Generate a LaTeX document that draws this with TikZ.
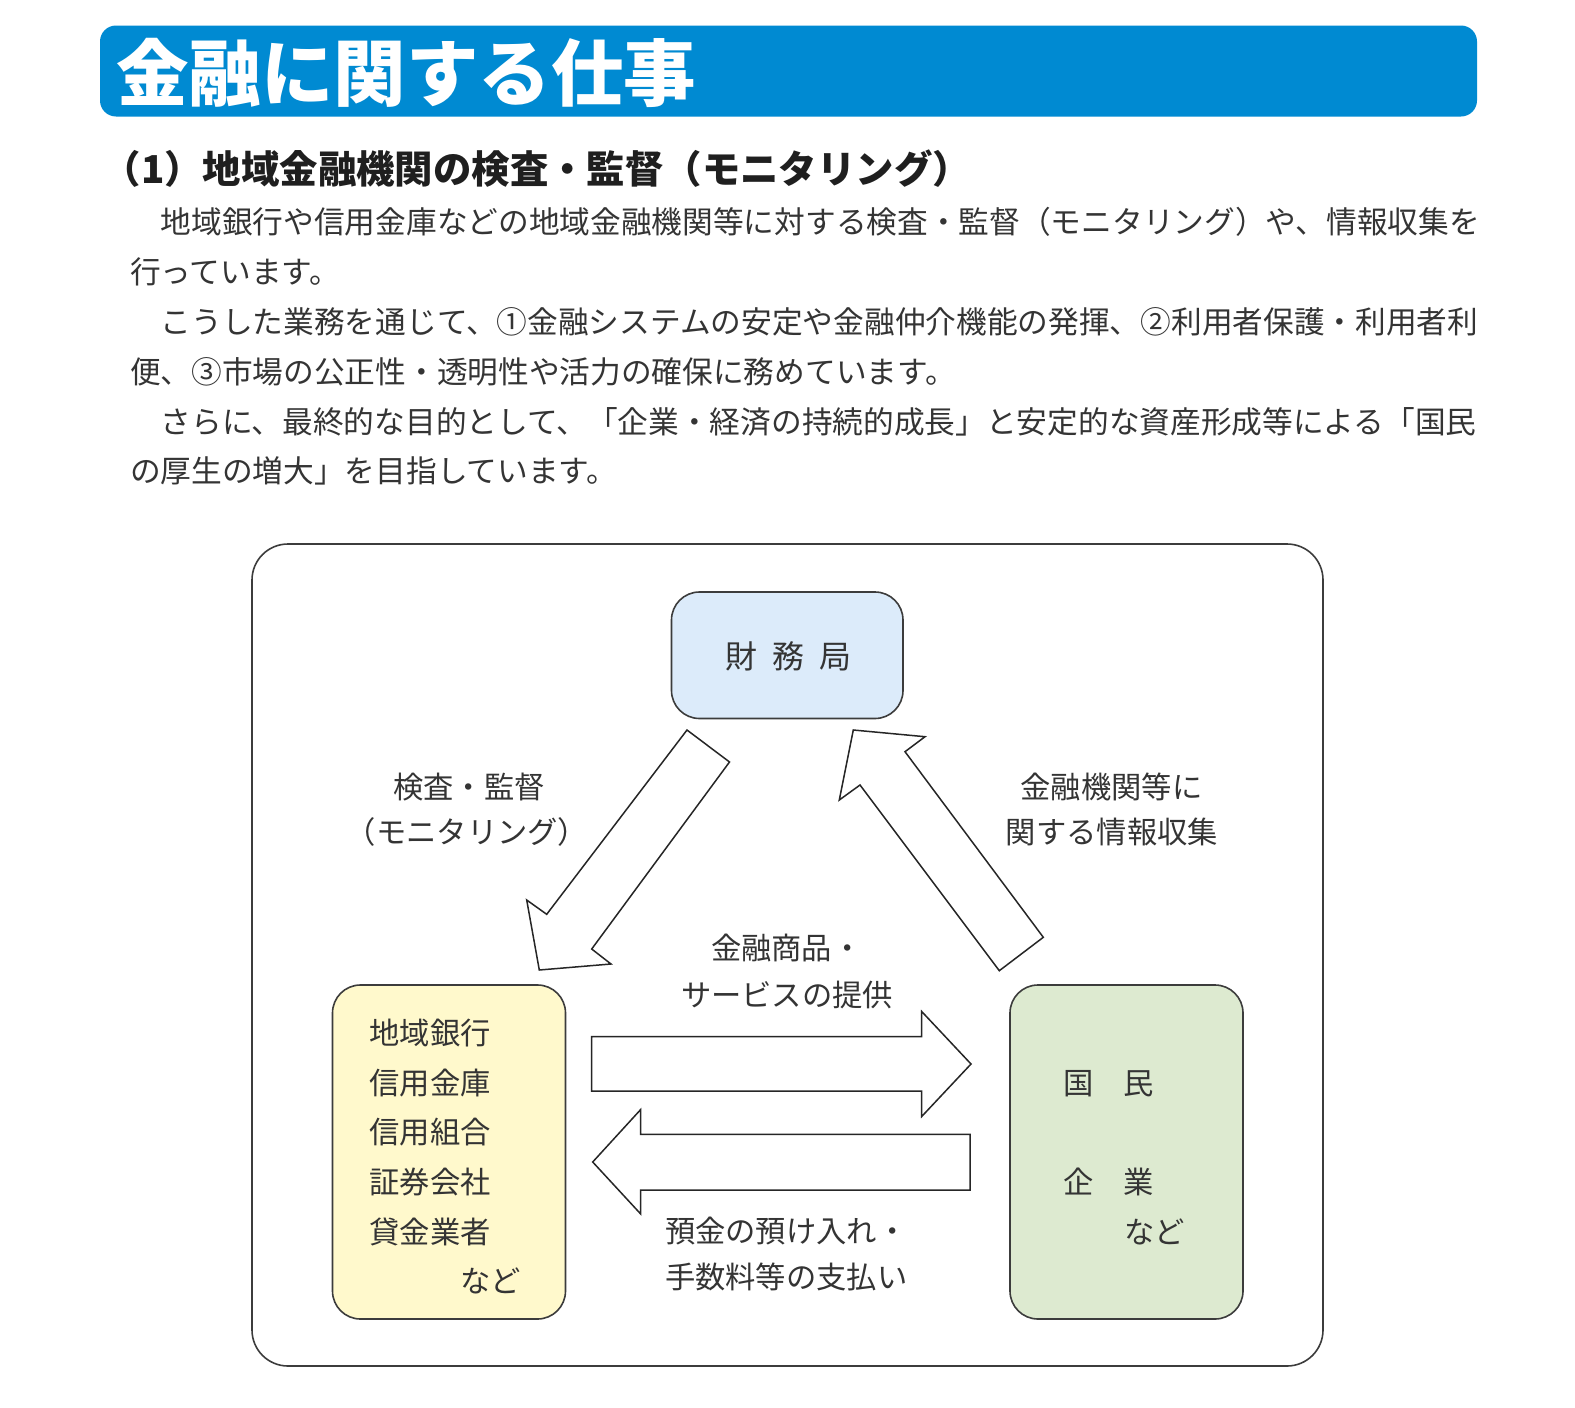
\documentclass[tikz,border=0pt]{standalone}
\usepackage{fontspec}
\setmainfont{Noto Sans CJK JP}
\newcommand{\setfs}[1]{\fontsize{#1}{#1}\selectfont}
\definecolor{titleblue}{RGB}{0,138,210}
\definecolor{zaimufill}{RGB}{220,235,250}
\definecolor{yellowfill}{RGB}{255,249,204}
\definecolor{greenfill}{RGB}{221,234,208}
\definecolor{bodygray}{RGB}{52,52,52}
\definecolor{linegray}{RGB}{60,60,60}
\begin{document}
\begin{tikzpicture}[x=1pt,y=-1pt,
  body/.style={font=\setfs{30.7}, text=bodygray, inner sep=0pt, outer sep=0pt, text height=27pt, text depth=3.7pt, anchor=west},
  lbl/.style={font=\setfs{30.3}, text=bodygray, inner sep=0pt, outer sep=0pt, text height=26.7pt, text depth=3.6pt},
  roundbox/.style={draw=linegray, line width=1.6pt, rounded corners=28pt, inner sep=0pt},
  blockarrow/.style={draw=black!85, fill=white, line width=1.5pt, line join=miter}
]
\useasboundingbox[fill=white] (0,0) rectangle (1575,1408);

% title banner
\node[fill=titleblue, rounded corners=16pt, minimum width=1377pt, minimum height=91pt, inner sep=0pt] (banner) at (788.5,71) {};
\node[font=\setfs{72.5}\bfseries, text=white, inner sep=0pt, text height=63.8pt, text depth=8.7pt, anchor=west] (title) at (116,73) {金融に関する仕事};

% subheading
\node[font=\setfs{38.4}\bfseries, text=black!88, inner sep=0pt, text height=33.8pt, text depth=4.6pt, anchor=west] (sub) at (102.5,169) {（1）地域金融機関の検査・監督（モニタリング）};

% body text
\node[body] (l1) at (130,222) {　地域銀行や信用金庫などの地域金融機関等に対する検査・監督（モニタリング）や、情報収集を};
\node[body] (l2) at (130,271.5) {行っています。};
\node[body] (l3) at (130,321.5) {　こうした業務を通じて、①金融システムの安定や金融仲介機能の発揮、②利用者保護・利用者利};
\node[body] (l4) at (130,371.5) {便、③市場の公正性・透明性や活力の確保に務めています。};
\node[body] (l5) at (130,422) {　さらに、最終的な目的として、「企業・経済の持続的成長」と安定的な資産形成等による「国民};
\node[body] (l6) at (130,471) {の厚生の増大」を目指しています。};

% outer frame
\node[draw=linegray, line width=1.6pt, rounded corners=36pt, minimum width=1071pt, minimum height=822pt, inner sep=0pt] (frame) at (787.5,955) {};

% boxes
\node[roundbox, fill=zaimufill, minimum width=231.5pt, minimum height=126.5pt] (zaimu) at (787.25,655.25) {};
\node[lbl, font=\setfs{32}, text height=28.2pt, text depth=3.8pt] (zaimut) at (788.5,656) {財\hspace{15pt}務\hspace{15pt}局};
\node[roundbox, fill=yellowfill, minimum width=233pt, minimum height=334pt] (left) at (449,1152) {};
\node[roundbox, fill=greenfill, minimum width=233pt, minimum height=334pt] (right) at (1126.5,1152) {};

% left box text
\node[lbl, anchor=west] (a1) at (369.5,1032.6) {地域銀行};
\node[lbl, anchor=west] (a2) at (369.5,1082.9) {信用金庫};
\node[lbl, anchor=west] (a3) at (369.5,1132) {信用組合};
\node[lbl, anchor=west] (a4) at (369.5,1182.3) {証券会社};
\node[lbl, anchor=west] (a5) at (369.5,1231.5) {貸金業者};
\node[lbl, anchor=west] (a6) at (460,1280.7) {など};

% right box text
\node[lbl, anchor=west] (b1) at (1063,1082.9) {国　民};
\node[lbl, anchor=west] (b2) at (1063,1182.3) {企　業};
\node[lbl, anchor=west] (b3) at (1124,1231.5) {など};

% labels
\node[lbl] (k1) at (469,786.5) {検査・監督};
\node[lbl] (k2) at (467,831.7) {（モニタリング）};
\node[lbl] (j1) at (1111.5,786.5) {金融機関等に};
\node[lbl] (j2) at (1112,831.7) {関する情報収集};
\node[lbl, anchor=west] (s1) at (711,948) {金融商品・};
\node[lbl, anchor=west] (s2) at (681,994.5) {サービスの提供};
\node[lbl, anchor=west] (p1) at (665,1230.5) {預金の預け入れ・};
\node[lbl, anchor=west] (p2) at (665,1276.7) {手数料等の支払い};

% block arrows
\draw[blockarrow] (687,730) -- (729.5,762) -- (591.7,949) -- (611,964) -- (539.3,970) -- (526.7,900) -- (546.7,914.3) -- cycle;
\draw[blockarrow] (853.3,730) -- (925,736.7) -- (905,751.7) -- (1043.3,937.3) -- (999.3,970.7) -- (860,785) -- (839.3,800) -- cycle;
\draw[blockarrow] (591.7,1036.5) -- (921.7,1036.5) -- (921.7,1011.5) -- (971,1064) -- (921.7,1116.5) -- (921.7,1091) -- (591.7,1091) -- cycle;
\draw[blockarrow] (970,1134.3) -- (640.7,1134.3) -- (640.7,1109.5) -- (592.7,1162) -- (640.7,1214) -- (640.7,1190) -- (970,1190) -- cycle;
\end{tikzpicture}
\end{document}
